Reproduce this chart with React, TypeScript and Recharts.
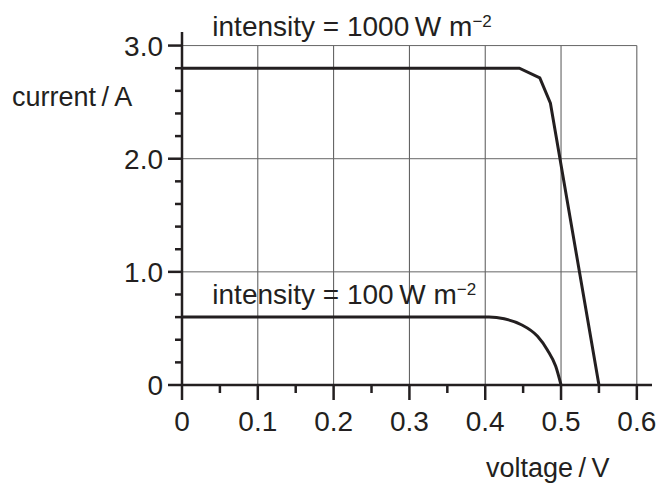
import { LineChart, Line, XAxis, YAxis, ReferenceLine, ReferenceDot } from "recharts";

// current (A) against voltage (V) at the two intensities
const highIntensity = [
  { v: 0, i: 2.8 },
  { v: 0.445, i: 2.8 },
  { v: 0.472, i: 2.715 },
  { v: 0.486, i: 2.49 },
  { v: 0.55, i: 0 },
];

const lowIntensity = [
  { v: 0, i: 0.6 },
  { v: 0.405, i: 0.6 },
  { v: 0.425, i: 0.585 },
  { v: 0.447, i: 0.535 },
  { v: 0.469, i: 0.43 },
  { v: 0.482, i: 0.31 },
  { v: 0.493, i: 0.165 },
  { v: 0.5, i: 0 },
];

const xTicks = [0, 0.05, 0.1, 0.15, 0.2, 0.25, 0.3, 0.35, 0.4, 0.45, 0.5, 0.55, 0.6];
const yTicks = [0, 0.2, 0.4, 0.6, 0.8, 1, 1.2, 1.4, 1.6, 1.8, 2, 2.2, 2.4, 2.6, 2.8, 3];
const gridX = [0.1, 0.2, 0.3, 0.4, 0.5, 0.6];
const gridY = [1, 2, 3];

const FONT = "'Liberation Sans', Arial, Helvetica, sans-serif";
const INK = "#231f20";

const XTick = ({ x, y, payload }: any) => {
  const major = Math.round(payload.value * 100) % 10 === 0;
  const label = payload.value === 0 ? "0" : payload.value.toFixed(1);
  return (
    <g>
      <line x1={x} x2={x} y1={y} y2={y + (major ? 15 : 8)} stroke={INK} strokeWidth={2.5} />
      {major && (
        <text x={x} y={y + 46} textAnchor="middle" fontSize={28} fontFamily={FONT} fill={INK}>
          {label}
        </text>
      )}
    </g>
  );
};

const YTick = ({ x, y, payload }: any) => {
  const major = Math.abs(payload.value - Math.round(payload.value)) < 1e-6;
  const label = payload.value === 0 ? "0" : payload.value.toFixed(1);
  return (
    <g>
      <line x1={x} x2={x - (major ? 14 : 7)} y1={y} y2={y} stroke={INK} strokeWidth={2.5} />
      {major && (
        <text x={x - 19} y={y + 10} textAnchor="end" fontSize={28} fontFamily={FONT} fill={INK}>
          {label}
        </text>
      )}
    </g>
  );
};

const intensityLabel = (value: string) => (props: any) => {
  const { x, y } = props.viewBox;
  return (
    <text x={x} y={y} fontSize={28} fontFamily={FONT} fill={INK}>
      {`intensity = ${value}\u2009W m`}
      <tspan fontSize={17} dy={-9}>{"\u22122"}</tspan>
    </text>
  );
};

export default function App() {
  return (
    <div style={{ position: "absolute", left: 0, top: 0, width: 660, height: 483, background: "#fff" }}>
      <LineChart width={660} height={483} margin={{ top: 32, right: 8, bottom: 68, left: 100 }}>
        <XAxis
          type="number"
          dataKey="v"
          domain={[0, 0.62]}
          allowDataOverflow
          ticks={xTicks}
          interval={0}
          height={30}
          tickSize={0}
          tickMargin={0}
          tick={<XTick />}
          axisLine={{ stroke: INK, strokeWidth: 2.5 }}
        />
        <YAxis
          type="number"
          dataKey="i"
          domain={[0, 3.12]}
          allowDataOverflow
          ticks={yTicks}
          interval={0}
          width={82}
          tickSize={0}
          tickMargin={0}
          tick={<YTick />}
          axisLine={{ stroke: INK, strokeWidth: 2.5 }}
        />
        {gridX.map((g) => (
          <ReferenceLine
            key={`gx${g}`}
            segment={[{ x: g, y: 0 }, { x: g, y: 3 }]}
            stroke="#555"
            strokeWidth={1}
          />
        ))}
        {gridY.map((g) => (
          <ReferenceLine
            key={`gy${g}`}
            segment={[{ x: 0, y: g }, { x: 0.6, y: g }]}
            stroke="#666"
            strokeWidth={1}
          />
        ))}
        <Line
          data={highIntensity}
          dataKey="i"
          type="linear"
          stroke={INK}
          strokeWidth={3}
          dot={false}
          isAnimationActive={false}
        />
        <Line
          data={lowIntensity}
          dataKey="i"
          type="monotone"
          stroke={INK}
          strokeWidth={3}
          dot={false}
          isAnimationActive={false}
        />
        <ReferenceDot x={0.04} y={3.083} r={0} stroke="none" fill="none" label={intensityLabel("1000")} />
        <ReferenceDot x={0.04} y={0.718} r={0} stroke="none" fill="none" label={intensityLabel("100")} />
      </LineChart>
      <svg width={660} height={483} style={{ position: "absolute", left: 0, top: 0, pointerEvents: "none" }}>
        <text x={12} y={106} fontSize={27} fontFamily={FONT} fill={INK}>
          {"current\u2009/\u2009A"}
        </text>
        <text x={486} y={477} fontSize={27} fontFamily={FONT} fill={INK}>
          {"voltage\u2009/\u2009V"}
        </text>
      </svg>
    </div>
  );
}
